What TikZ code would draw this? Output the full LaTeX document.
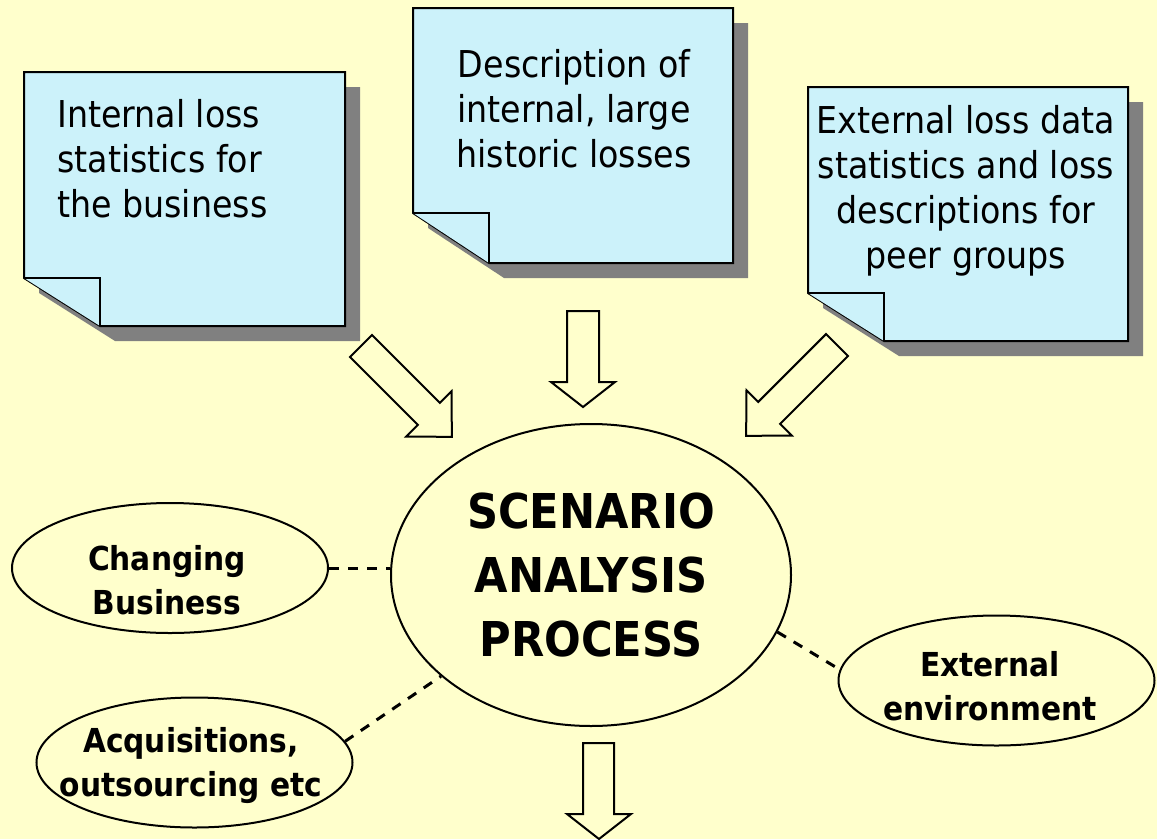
\documentclass[tikz,border=0pt]{standalone}
\usepackage{fontspec}
\setmainfont{DejaVu Sans Condensed}[BoldFont={DejaVu Sans Condensed Bold}]
\usetikzlibrary{shapes.geometric,positioning}

\definecolor{bgyellow}{RGB}{255,255,204}
\definecolor{notecyan}{RGB}{204,242,250}
\definecolor{shadowgray}{RGB}{128,128,128}

\begin{document}
\begin{tikzpicture}[
    x=1pt, y=-1pt,
    paper/.style={
        fill=notecyan,
        draw=black,
        line width=2pt,
        line join=miter
    },
    papershadow/.style={
        fill=shadowgray
    },
    notetext/.style={
        font=\fontsize{37}{45}\selectfont,
        inner sep=0pt
    },
    blockarrow/.style={
        fill=bgyellow,
        draw=black,
        line width=2pt,
        line join=miter
    },
    bubble/.style={
        ellipse,
        draw=black,
        line width=2pt,
        fill=bgyellow,
        minimum width=316pt,
        minimum height=130pt,
        inner sep=0pt
    },
    bubbletext/.style={
        font=\bfseries\fontsize{33}{44}\selectfont,
        align=center,
        inner sep=0pt
    },
    link/.style={
        line width=3pt,
        dash pattern=on 10pt off 9pt
    }
]

% Background
\path[use as bounding box, fill=bgyellow] (0,0) rectangle (1157,839);

% Note 1
\fill[papershadow] (39,87) -- (360,87) -- (360,341) -- (115,341) -- (39,293) -- cycle;
\draw[paper] (24,72) -- (345,72) -- (345,326) -- (100,326) -- (24,278) -- cycle;
\draw[paper] (24,278) -- (100,278) -- (100,326);
\node[notetext, anchor=west, align=left] (internal) at (57,158.5) {
    Internal loss\\statistics for\\the business};

% Note 2
\fill[papershadow] (428,23) -- (748,23) -- (748,278) -- (504,278) -- (428,228) -- cycle;
\draw[paper] (413,8) -- (733,8) -- (733,263) -- (489,263) -- (413,213) -- cycle;
\draw[paper] (413,213) -- (489,213) -- (489,263);
\node[notetext, align=center] (historic) at (574,109) {
    Description of\\internal, large\\historic losses};

% Note 3
\fill[papershadow] (823,102) -- (1143,102) -- (1143,356) -- (899,356) -- (823,308) -- cycle;
\draw[paper] (808,87) -- (1128,87) -- (1128,341) -- (884,341) -- (808,293) -- cycle;
\draw[paper] (808,293) -- (884,293) -- (884,341);
\node[notetext, align=center] (external data) at (966,191) {
    External loss data\\statistics and loss\\descriptions for\\peer groups};

% Block arrows
\draw[blockarrow, shift={(361,346)}, rotate=45]
    (-15.5,0) -- (15.5,0) -- (15.5,96) -- (32,96) -- (0,128.5) -- (-32,96) -- (-15.5,96) -- cycle;
\draw[blockarrow]
    (567,311) -- (599,311) -- (599,382) -- (615,382) -- (583,407) -- (551,382) -- (567,382) -- cycle;
\draw[blockarrow, shift={(837,345)}, rotate=-45]
    (-15.5,0) -- (15.5,0) -- (15.5,96) -- (32,96) -- (0,128.5) -- (-32,96) -- (-15.5,96) -- cycle;
\draw[blockarrow]
    (583,743) -- (614,743) -- (614,814) -- (631,814) -- (599,839) -- (567,814) -- (583,814) -- cycle;

% Scenario analysis
\node[bubble, minimum width=400pt, minimum height=302pt, align=center,
    font=\bfseries\fontsize{48}{64}\selectfont] (scenario) at (591,575) {
    SCENARIO\\ANALYSIS\\PROCESS};

% Side bubbles
\node[bubble] (changing) at (170,568) {};
\node[bubbletext] (changingtext) at (167,580) {Changing\\Business};

\node[bubble] (external) at (996.5,680.5) {};
\node[bubbletext] (externaltext) at (990,686) {External\\environment};

\node[bubble] (acquisitions) at (194.5,762.5) {};
\node[bubbletext] (acquisitionstext) at (191,766) {Acquisitions,\\outsourcing etc};

% Dashed links
\draw[link] (changing.east) -- (changing.east -| scenario.west);
\draw[link] (scenario.-17) -- (external.176);
\draw[link] (acquisitions.8) -- (scenario.214);

\end{tikzpicture}
\end{document}
